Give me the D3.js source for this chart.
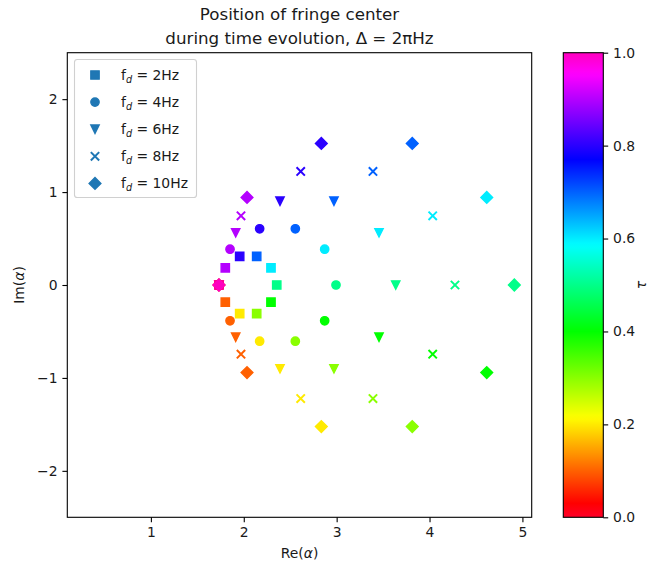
<!DOCTYPE html>
<html>
<head>
<meta charset="utf-8">
<script src="https://cdn.jsdelivr.net/npm/d3@7"></script>
<style>
  html, body { margin: 0; padding: 0; background: #fff; }
  svg { display: block; font-family: "DejaVu Sans", sans-serif; }
</style>
</head>
<body>
<svg id="chart" width="649" height="567"></svg>
<script>
// Normalised time samples shared by every modulation frequency
const tau = [0, 0.1, 0.2, 0.3, 0.4, 0.5, 0.6, 0.7, 0.8, 0.9, 1.0];

// Modulation frequencies (Hz) and their marker shapes
const freqs = [2, 4, 6, 8, 10];
const shapes = ["square", "circle", "triangle_down", "x", "diamond"];

// Fringe-centre trajectory, real and imaginary parts, one array per frequency
const re2  = [1.733, 1.801, 1.956, 2.139, 2.293, 2.355, 2.293, 2.139, 1.956, 1.801, 1.733];
const im2  = [0, -0.185, -0.307, -0.307, -0.185, 0, 0.185, 0.307, 0.307, 0.185, 0];
const re4  = [1.733, 1.852, 2.171, 2.555, 2.871, 2.993, 2.871, 2.555, 2.171, 1.852, 1.733];
const im4  = [0, -0.385, -0.605, -0.605, -0.385, 0, 0.385, 0.605, 0.605, 0.385, 0];
const re6  = [1.733, 1.913, 2.390, 2.971, 3.456, 3.636, 3.456, 2.971, 2.390, 1.913, 1.733];
const im6  = [0, -0.562, -0.902, -0.902, -0.562, 0, 0.562, 0.902, 0.902, 0.562, 0];
const re8  = [1.733, 1.970, 2.613, 3.391, 4.034, 4.274, 4.034, 3.391, 2.613, 1.970, 1.733];
const im8  = [0, -0.745, -1.222, -1.222, -0.745, 0, 0.745, 1.222, 1.222, 0.745, 0];
const re10 = [1.733, 2.035, 2.835, 3.814, 4.616, 4.913, 4.616, 3.814, 2.835, 2.035, 1.733];
const im10 = [0, -0.942, -1.523, -1.523, -0.942, 0, 0.942, 1.523, 1.523, 0.942, 0];

const reSeries = [re2, re4, re6, re8, re10];
const imSeries = [im2, im4, im6, im8, im10];

// Axis ticks
const xTicks = [1, 2, 3, 4, 5];
const yTicks = [-2, -1, 0, 1, 2];
const cTicks = [0.0, 0.2, 0.4, 0.6, 0.8, 1.0];

// gist_rainbow colour map anchors
const rainbowStops = [
  [0.000, [1.00, 0.00, 0.16]],
  [0.030, [1.00, 0.00, 0.00]],
  [0.215, [1.00, 1.00, 0.00]],
  [0.400, [0.00, 1.00, 0.00]],
  [0.586, [0.00, 1.00, 1.00]],
  [0.770, [0.00, 0.00, 1.00]],
  [0.954, [1.00, 0.00, 1.00]],
  [1.000, [1.00, 0.00, 0.75]]
];
const toRgb = c => d3.rgb(c[0] * 255, c[1] * 255, c[2] * 255).formatHex();
const color = d3.scaleLinear()
  .domain(rainbowStops.map(s => s[0]))
  .range(rainbowStops.map(s => toRgb(s[1])))
  .interpolate(d3.interpolateRgb)
  .clamp(true);

const svg = d3.select("#chart");
const plot = { left: 67.3, right: 531.7, top: 52.7, bottom: 517.3 };
const x = d3.scaleLinear().domain([0.1, 5.1]).range([plot.left, plot.right]);
const y = d3.scaleLinear().domain([-2.5, 2.5]).range([plot.bottom, plot.top]);

const textColor = "#1a1a1a";
const tickFont = 13.9;

// Marker paths, sized like 6pt markers
const ms = 8.33;
function markerPath(shape) {
  const h = ms / 2;
  switch (shape) {
    case "square":
      return `M${-h},${-h}H${h}V${h}H${-h}Z`;
    case "circle":
      return `M${h},0A${h},${h} 0 1,1 ${-h},0A${h},${h} 0 1,1 ${h},0Z`;
    case "triangle_down":
      return `M0,${h}L${-h},${-h}L${h},${-h}Z`;
    case "x":
      return `M${-h},${-h}L${h},${h}M${-h},${h}L${h},${-h}`;
    case "diamond": {
      const d = ms * Math.SQRT1_2;
      return `M0,${-d}L${d},0L0,${d}L${-d},0Z`;
    }
  }
}
function styleMarker(sel, shape, fill) {
  if (shape === "x") {
    sel.attr("fill", "none").attr("stroke", fill).attr("stroke-width", 2);
  } else {
    sel.attr("fill", fill).attr("stroke", fill).attr("stroke-width", 1.4);
  }
}

// Title
const title = svg.append("text")
  .attr("text-anchor", "middle")
  .attr("font-size", 16.7)
  .attr("fill", textColor);
title.append("tspan").attr("x", (plot.left + plot.right) / 2).attr("y", 20)
  .text("Position of fringe center");
title.append("tspan").attr("x", (plot.left + plot.right) / 2).attr("y", 44)
  .text("during time evolution, Δ = 2πHz");

// Scatter points
const marks = svg.append("g");
freqs.forEach((f, i) => {
  const pts = tau.map((t, k) => ({ t, re: reSeries[i][k], im: imSeries[i][k] }));
  marks.append("g").selectAll("path").data(pts).join("path")
    .attr("d", markerPath(shapes[i]))
    .attr("transform", d => `translate(${x(d.re)},${y(d.im)})`)
    .each(function (d) { styleMarker(d3.select(this), shapes[i], color(d.t)); });
});

// Axes
const xAxis = svg.append("g")
  .attr("transform", `translate(0,${plot.bottom})`)
  .call(d3.axisBottom(x).tickValues(xTicks).tickSize(4.9).tickPadding(4.9).tickFormat(d3.format("d")));
const yAxis = svg.append("g")
  .attr("transform", `translate(${plot.left},0)`)
  .call(d3.axisLeft(y).tickValues(yTicks).tickSize(4.9).tickPadding(4.9).tickFormat(d3.format("d")));
[xAxis, yAxis].forEach(a => {
  a.select(".domain").remove();
  a.selectAll("line").attr("stroke", "#000").attr("stroke-width", 1.1);
  a.selectAll("text").attr("font-size", tickFont).attr("fill", textColor)
    .attr("font-family", "DejaVu Sans, sans-serif");
});

// Frame
svg.append("rect")
  .attr("x", plot.left).attr("y", plot.top)
  .attr("width", plot.right - plot.left).attr("height", plot.bottom - plot.top)
  .attr("fill", "none").attr("stroke", "#000").attr("stroke-width", 1.1);

// Axis labels
const xl = svg.append("text")
  .attr("x", (plot.left + plot.right) / 2).attr("y", 558)
  .attr("text-anchor", "middle").attr("font-size", tickFont).attr("fill", textColor);
xl.append("tspan").text("Re(");
xl.append("tspan").attr("font-style", "italic").text("α");
xl.append("tspan").text(")");

const yl = svg.append("text")
  .attr("transform", `translate(24,${(plot.top + plot.bottom) / 2}) rotate(-90)`)
  .attr("text-anchor", "middle").attr("font-size", tickFont).attr("fill", textColor);
yl.append("tspan").text("Im(");
yl.append("tspan").attr("font-style", "italic").text("α");
yl.append("tspan").text(")");

// Legend
const legend = svg.append("g");
legend.append("rect")
  .attr("x", 74.5).attr("y", 59.5).attr("width", 122).attr("height", 138)
  .attr("rx", 2.8).attr("fill", "#fff").attr("fill-opacity", 0.8)
  .attr("stroke", "#d0d0d0").attr("stroke-width", 1.1);
freqs.forEach((f, i) => {
  const cy = 75 + i * 27.1;
  const m = legend.append("path")
    .attr("d", markerPath(shapes[i]))
    .attr("transform", `translate(95,${cy})`);
  styleMarker(m, shapes[i], "#1f77b4");
  const t = legend.append("text")
    .attr("x", 121).attr("y", cy + 5)
    .attr("font-size", tickFont).attr("fill", textColor);
  t.append("tspan").text("f");
  t.append("tspan").attr("font-style", "italic").attr("font-size", 9.7).attr("dy", 3).text("d");
  t.append("tspan").attr("dy", -3).text(` = ${f}Hz`);
});

// Colour bar
const cb = { left: 563.3, right: 603.3, top: 52.7, bottom: 517.3 };
const cScale = d3.scaleLinear().domain([0, 1]).range([cb.bottom, cb.top]);
const grad = svg.append("defs").append("linearGradient")
  .attr("id", "rainbow").attr("x1", 0).attr("y1", 1).attr("x2", 0).attr("y2", 0);
d3.range(0, 1.0001, 0.01).forEach(v => {
  grad.append("stop").attr("offset", v).attr("stop-color", color(v));
});
svg.append("rect")
  .attr("x", cb.left).attr("y", cb.top)
  .attr("width", cb.right - cb.left).attr("height", cb.bottom - cb.top)
  .attr("fill", "url(#rainbow)").attr("stroke", "#000").attr("stroke-width", 1.1);
const cAxis = svg.append("g")
  .attr("transform", `translate(${cb.right},0)`)
  .call(d3.axisRight(cScale).tickValues(cTicks).tickSize(4.9).tickPadding(4.9).tickFormat(d3.format(".1f")));
cAxis.select(".domain").remove();
cAxis.selectAll("line").attr("stroke", "#000").attr("stroke-width", 1.1);
cAxis.selectAll("text").attr("font-size", tickFont).attr("fill", textColor)
  .attr("font-family", "DejaVu Sans, sans-serif");

svg.append("text")
  .attr("transform", `translate(641,${(cb.top + cb.bottom) / 2}) rotate(-90)`)
  .attr("text-anchor", "middle").attr("dominant-baseline", "central")
  .attr("font-size", tickFont).attr("fill", textColor)
  .attr("font-style", "italic")
  .text("τ");
</script>
</body>
</html>
